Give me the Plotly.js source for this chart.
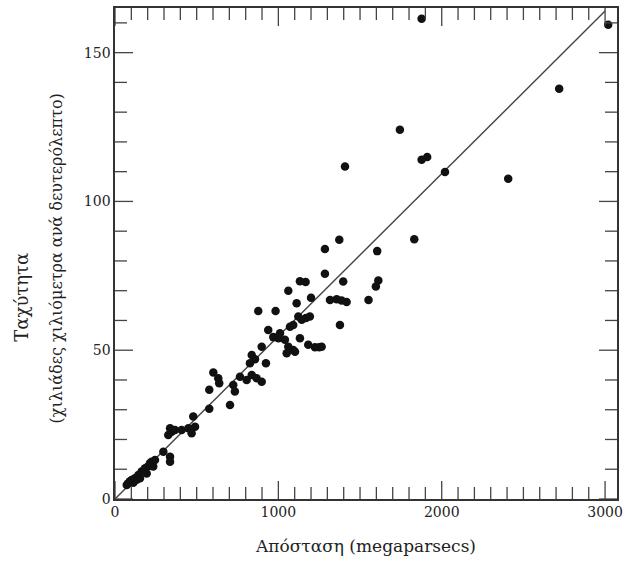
<!DOCTYPE html>
<html>
<head>
<meta charset="utf-8">
<script src="https://cdn.plot.ly/plotly-3.0.1.min.js"></script>
</head>
<body style="margin:0">
<div id="chart" style="width:636px;height:567px;display:inline-block"></div>
<script>
// Distance (megaparsecs)
const distance = [72,81,92,102,112,122,133,143,153,163,174,184,194,204,214,224,234,245,296,337,337,
  326,337,347,367,408,449,469,490,479,
  577,704,577,724,734,602,632,638,765,806,837,867,898,837,857,826,924,898,
  877,983,938,969,1000,1010,1040,1061,1091,1051,1102,1132,1183,1224,1250,
  1061,1112,1167,1132,1200,1071,1091,1122,1143,1169,1193,
  1265,1285,1285,1316,1357,1387,1418,1377,1397,1373,1408,
  1552,1597,1612,1605,1744,1832,1877,1911,2020,1877,2407,2719,3019];
// Velocity (thousand km/s)
const velocity = [4.7,5.3,6.0,6.4,5.5,7.0,6.5,8.1,7.0,9.2,9.5,10.3,8.6,11.0,12.0,12.5,10.9,13.1,15.9,14.2,12.5,
  21.5,23.8,22.6,23.2,23.2,23.8,22.1,24.3,27.7,
  30.3,31.6,36.7,38.3,36.1,42.5,40.6,38.9,41.1,40.0,41.7,40.6,39.4,48.4,47.0,45.6,45.6,51.2,
  63.2,63.2,56.8,54.4,54.0,55.7,53.5,51.2,50.1,49.0,49.5,54.0,51.8,51.0,51.0,
  70.0,65.8,72.9,73.2,67.6,57.9,58.5,61.3,60.2,60.8,61.3,
  51.2,75.7,84.0,66.9,67.1,66.7,66.2,58.5,73.1,87.1,111.7,
  66.9,71.4,73.4,83.3,124.1,87.3,114.0,114.9,109.9,161.4,107.6,137.9,159.4];
// Fitted line endpoints
const lineX = [0, 3000];
const lineY = [0, 164];
// Tick values
const xMajorTicks = [0, 1000, 2000, 3000];
const yMajorTicks = [0, 50, 100, 150];
const xMinorStep = 100;
const yMinorStep = 10;
const xTitle = 'Απόσταση (megaparsecs)';
const yTitle1 = 'Ταχύτητα';
const yTitle2 = '(χιλιάδες χιλιόμετρα ανά δευτερόλεπτο)';

const serif = '"DejaVu Serif", "Liberation Serif", serif';
const tickLine = {color: '#444', width: 1.3};

function minorValues(step, max, majors) {
  const out = [];
  for (let v = step; v <= max; v += step) if (majors.indexOf(v) < 0) out.push(v);
  return out;
}

function xTicks(values, len) {
  const s = [];
  values.forEach(v => {
    s.push({type: 'line', xref: 'x', yref: 'paper', ysizemode: 'pixel', yanchor: 0,
            x0: v, x1: v, y0: 0, y1: len, line: tickLine});
    s.push({type: 'line', xref: 'x', yref: 'paper', ysizemode: 'pixel', yanchor: 1,
            x0: v, x1: v, y0: 0, y1: -len, line: tickLine});
  });
  return s;
}
function yTicks(values, len) {
  const s = [];
  values.forEach(v => {
    s.push({type: 'line', xref: 'paper', yref: 'y', xsizemode: 'pixel', xanchor: 0,
            x0: 0, x1: len, y0: v, y1: v, line: tickLine});
    s.push({type: 'line', xref: 'paper', yref: 'y', xsizemode: 'pixel', xanchor: 1,
            x0: 0, x1: -len, y0: v, y1: v, line: tickLine});
  });
  return s;
}

function draw(id) {
  function ax(extra) {
    const a = {showgrid: false, zeroline: false, showline: true, linecolor: '#333', linewidth: 1.6,
      mirror: true, ticks: '', tickmode: 'array',
      tickfont: {family: serif, size: 14, color: '#222'}};
    return Object.assign(a, extra);
  }
  const xa = ax({range: [0, 3073], tickvals: xMajorTicks, ticktext: xMajorTicks.map(String)});
  xa.title = {text: xTitle, font: {family: serif, size: 17, color: '#222'}, standoff: 20};
  const ya = ax({range: [0, 165], tickvals: yMajorTicks, ticktext: yMajorTicks.map(String)});
  const tr = [
    {x: lineX, y: lineY, mode: 'lines', line: {color: '#444', width: 1.4}},
    {x: distance, y: velocity, mode: 'markers', marker: {color: '#111', size: 8.5}}
  ];
  const shapes = []
    .concat(xTicks(xMajorTicks, 18))
    .concat(xTicks(minorValues(xMinorStep, 3073, xMajorTicks), 12))
    .concat(yTicks(yMajorTicks, 18))
    .concat(yTicks(minorValues(yMinorStep, 165, yMajorTicks), 12));
  const lay = {width: 636, height: 567, margin: {l: 115, r: 19, t: 8, b: 68}, showlegend: false,
    xaxis: xa, yaxis: ya, shapes: shapes,
    annotations: [
      {text: yTitle1, xref: 'paper', yref: 'paper', x: 0, y: 0.41, xanchor: 'center', yanchor: 'middle',
       xshift: -93, textangle: -90, showarrow: false, font: {family: serif, size: 18, color: '#222'}},
      {text: yTitle2, xref: 'paper', yref: 'paper', x: 0, y: 0.49, xanchor: 'center', yanchor: 'middle',
       xshift: -59, textangle: -90, showarrow: false, font: {family: serif, size: 16, color: '#222'}}
    ]};
  Plotly.newPlot(id, tr, lay, {displayModeBar: false, staticPlot: true});
}
draw('chart');
</script>
</body>
</html>
